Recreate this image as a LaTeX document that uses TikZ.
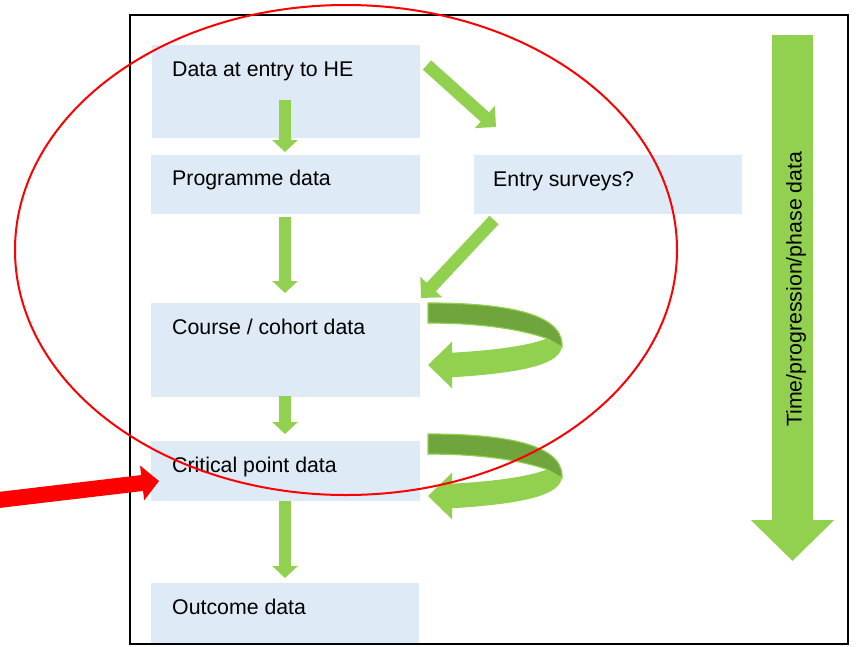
\documentclass[tikz,border=0pt]{standalone}
\usepackage{fontspec}
\setmainfont{Liberation Sans}
\usetikzlibrary{arrows.meta}
\definecolor{boxblue}{HTML}{DEEAF6}
\definecolor{leaf}{HTML}{92D050}
\definecolor{leafdark}{HTML}{70A43C}
\begin{document}
\begin{tikzpicture}[x=1pt,y=-1pt,
  box/.style={fill=boxblue, draw=none, inner sep=0pt, anchor=north west},
  lbl/.style={font=\fontsize{21.3}{25}\selectfont, inner sep=0pt, anchor=base west},
  flow/.style={leaf, line width=12pt, -{Triangle[width=25pt,length=12pt]}},
  slant/.style={leaf, line width=12.5pt, -{Triangle[width=29pt,length=15pt]}},
  loopfront/.style={fill=leaf},
  loopback/.style={fill=leafdark, draw=leaf, line width=1.2pt},
  redring/.style={red, line width=2pt}]
\useasboundingbox (0,0) rectangle (856,646);

% data boxes
\node[box, minimum width=268pt, minimum height=93pt] (entry) at (152,45) {};
\node[box, minimum width=269pt, minimum height=59pt] (prog) at (151,155) {};
\node[box, minimum width=268pt, minimum height=59pt] (survey) at (474,155) {};
\node[box, minimum width=269pt, minimum height=94pt] (course) at (151,303) {};
\node[box, minimum width=269pt, minimum height=60pt] (crit) at (151,441) {};
\node[box, minimum width=268pt, minimum height=61pt] (outcome) at (151,583) {};

% outer frame
\draw[line width=2pt] (130,15) rectangle (848,644);

% time arrow
\coordinate (timeA) at (792.5,35);
\coordinate (timeB) at (792.5,561);
\draw[leaf, line width=41pt, -{Triangle[width=81pt,length=41pt]}] (timeA) -- (timeB);

% flow arrows between boxes
\coordinate (f1a) at (285,100);  \coordinate (f1b) at (285,152);
\coordinate (f2a) at (285,217);  \coordinate (f2b) at (285,293);
\coordinate (f3a) at (285,396);  \coordinate (f3b) at (285,434);
\coordinate (f4a) at (285,501);  \coordinate (f4b) at (285,578);
\draw[flow] (f1a) -- (f1b);
\draw[flow] (f2a) -- (f2b);
\draw[flow] (f3a) -- (f3b);
\draw[flow] (f4a) -- (f4b);

\coordinate (d1a) at (427,65);  \coordinate (d1b) at (496,127);
\coordinate (d2a) at (494,220); \coordinate (d2b) at (421,298);
\draw[slant] (d1a) -- (d1b);
\draw[slant] (d2a) -- (d2b);

% looping arrows beside the course and critical point boxes
\foreach \dy in {0,131}{
  \begin{scope}[shift={(0,\dy)}]
    \fill[loopfront] (428,303) .. controls (500,303) and (562,312) .. (562,345)
      .. controls (562,365) and (520,373) .. (452,377.3)
      -- (452,388.3) -- (428,365) -- (452,341.7) -- (452,352.7)
      .. controls (500,350) and (530,345) .. (547,338.5)
      .. controls (520,329) and (480,323) .. (428,323) -- cycle;
    \filldraw[loopback] (428,303) .. controls (500,303) and (562,312) .. (562,345)
      -- (562,347) -- (547,338.5)
      .. controls (520,329) and (480,323) .. (428,323) -- cycle;
  \end{scope}
}

% labels
\node[lbl] (tEntry) at (172,76) {Data at entry to HE};
\node[lbl] (tProg) at (172,185.5) {Programme data};
\node[lbl] (tSurvey) at (493,186) {Entry surveys?};
\node[lbl] (tCourse) at (172,334) {Course / cohort data};
\node[lbl] (tCrit) at (172,472) {Critical point data};
\node[lbl] (tOut) at (172,614) {Outcome data};
\node[lbl, rotate=90] (tTime) at (801.5,427) {Time/progression/phase data};

% highlight ring and pointer
\draw[redring] (346,250) ellipse [x radius=331pt, y radius=245pt];
\coordinate (pA) at (-10,501);
\coordinate (pB) at (159,481);
\draw[red, line width=16pt, -{Triangle[width=34pt,length=17pt]}] (pA) -- (pB);
\end{tikzpicture}
\end{document}
